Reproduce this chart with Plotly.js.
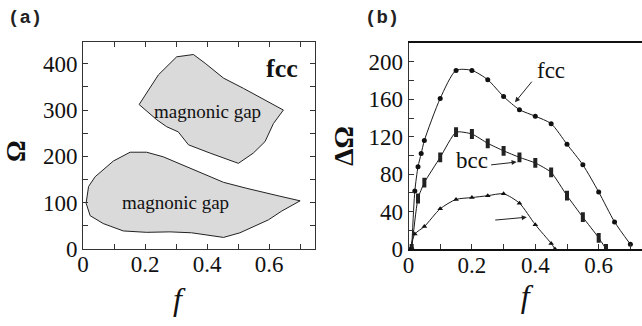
<!DOCTYPE html>
<html>
<head>
<meta charset="utf-8">
<script src="https://cdn.plot.ly/plotly-3.0.1.min.js"></script>
<style>html,body{margin:0;padding:0;background:#fff;}#chart{width:642px;height:326px;}</style>
</head>
<body>
<div id="chart"></div>
<script>
// Panel (a): magnonic gap regions (fcc), polygon outlines in (f, Omega)
const gapUpperF = [0.181, 0.211, 0.243, 0.302, 0.356, 0.394, 0.453, 0.517, 0.646, 0.614, 0.587, 0.549, 0.501, 0.41, 0.34, 0.307, 0.27, 0.238, 0.181];
const gapUpperW = [312, 343, 376, 415, 420, 401, 369, 347, 300, 271, 232, 207, 185, 207, 225, 253, 264, 279, 312];
const gapLowerF = [0.01, 0.018, 0.039, 0.098, 0.152, 0.205, 0.259, 0.335, 0.41, 0.453, 0.528, 0.598, 0.635, 0.7, 0.641, 0.598, 0.506, 0.453, 0.35, 0.28, 0.205, 0.13, 0.065, 0.023, 0.01];
const gapLowerW = [99, 135, 156, 190, 209, 209, 199, 178, 156, 144, 131, 119, 114, 104, 82, 63, 35, 25, 35, 37, 36, 39, 55, 72, 99];

// Panel (b): gap width vs f
const fccF = [0.01, 0.02, 0.03, 0.04, 0.05, 0.1, 0.15, 0.2, 0.25, 0.3, 0.35, 0.4, 0.45, 0.5, 0.55, 0.6, 0.65, 0.7];
const fccW = [0, 62, 88, 102, 116, 161, 191, 191, 181, 163, 149, 142, 134, 112, 90, 61, 29, 5];
const bccF = [0.01, 0.03, 0.05, 0.1, 0.15, 0.2, 0.25, 0.3, 0.35, 0.4, 0.45, 0.5, 0.55, 0.6, 0.623];
const bccW = [0, 54, 71, 98, 125, 123, 113, 105, 98, 92, 82, 57, 34, 12, 0];
const thirdF = [0.005, 0.02, 0.05, 0.1, 0.15, 0.2, 0.25, 0.3, 0.35, 0.4, 0.45, 0.462];
const thirdW = [0, 16, 24, 43, 53, 55, 57, 59, 49, 26, 6, 0];

// Tick labels
const aXTicks = [0, 0.2, 0.4, 0.6];
const aYTicks = [0, 100, 200, 300, 400];
const bXTicks = [0, 0.2, 0.4, 0.6];
const bYTicks = [0, 40, 80, 120, 160, 200];

const serif = "Liberation Serif";
const mono = "Liberation Mono";
const W = 642, H = 326;
const px = (x) => x / W;
const py = (y) => (H - y) / H;

const lineC = '#1a1a1a';
const traces = [
  {x: gapUpperF, y: gapUpperW, xaxis: 'x', yaxis: 'y', mode: 'lines', fill: 'toself',
   fillcolor: '#dadada', line: {color: '#222', width: 1}, hoverinfo: 'skip', showlegend: false},
  {x: gapLowerF, y: gapLowerW, xaxis: 'x', yaxis: 'y', mode: 'lines', fill: 'toself',
   fillcolor: '#dadada', line: {color: '#222', width: 1}, hoverinfo: 'skip', showlegend: false},
  {x: fccF, y: fccW, xaxis: 'x2', yaxis: 'y2', mode: 'lines+markers', name: 'fcc',
   line: {color: lineC, width: 1, shape: 'spline', smoothing: 0.7},
   marker: {symbol: 'circle', size: 5, color: '#111'}, showlegend: false},
  {x: bccF, y: bccW, xaxis: 'x2', yaxis: 'y2', mode: 'lines+markers', name: 'bcc',
   line: {color: lineC, width: 1, shape: 'spline', smoothing: 0.5},
   marker: {symbol: 'line-ns', size: 7, color: '#111', line: {color: '#222', width: 4}}, showlegend: false},
  {x: thirdF, y: thirdW, xaxis: 'x2', yaxis: 'y2', mode: 'lines+markers', name: 'third',
   line: {color: lineC, width: 1, shape: 'spline', smoothing: 0.7},
   marker: {symbol: 'triangle-up', size: 5, color: '#111'}, showlegend: false}
];

const tickFont = {family: serif, size: 23, color: '#111'};
const axCommon = {
  showgrid: false, zeroline: false, ticks: 'inside', ticklen: 5, tickcolor: '#333',
  tickfont: tickFont, showline: true, linecolor: '#333', linewidth: 1
};

const layout = {
  width: W, height: H,
  margin: {l: 0, r: 0, t: 0, b: 0},
  paper_bgcolor: '#fff', plot_bgcolor: '#fff',
  font: {family: serif, color: '#111'},
  xaxis: Object.assign({}, axCommon, {
    domain: [px(83), px(315)], range: [0, 0.748], anchor: 'y',
    tickvals: aXTicks, ticktext: aXTicks.map(String), mirror: 'allticks', ticklabelstandoff: -6,
    minor: {dtick: 0.1, tick0: 0, ticks: 'inside', ticklen: 5, tickcolor: '#333'}
  }),
  yaxis: Object.assign({}, axCommon, {
    domain: [py(249), py(42)], range: [0, 447], anchor: 'x',
    tickvals: aYTicks, ticktext: aYTicks.map(String), mirror: 'allticks',
    minor: {dtick: 50, tick0: 0, ticks: 'inside', ticklen: 5, tickcolor: '#333'}
  }),
  xaxis2: Object.assign({}, axCommon, {
    domain: [px(408.5), 1], range: [0, 0.7366], anchor: 'y2',
    tickvals: bXTicks, ticktext: bXTicks.map(String), mirror: true, linewidth: 2, linecolor: '#111',
    ticklabelstandoff: -6,
    minor: {dtick: 0.1, tick0: 0, ticks: 'inside', ticklen: 5, tickcolor: '#333'},
    title: {text: '<i>f</i>', font: {family: serif, size: 32, color: '#111'}, standoff: 8}
  }),
  yaxis2: Object.assign({}, axCommon, {
    domain: [py(249), py(43)], range: [0, 220.3], anchor: 'x2',
    tickvals: bYTicks, ticktext: bYTicks.map(String), mirror: false,
    minor: {dtick: 20, tick0: 0, ticks: 'inside', ticklen: 5, tickcolor: '#333'},
    title: {text: '<b>ΔΩ</b>', font: {family: serif, size: 28, color: '#111'}, standoff: 6}
  }),
  annotations: [
    {xref: 'paper', yref: 'paper', x: px(6), y: py(18), xanchor: 'left', yanchor: 'middle',
     text: '<b>(a)</b>', showarrow: false, font: {family: mono, size: 19, color: '#222'}},
    {xref: 'paper', yref: 'paper', x: px(363), y: py(18), xanchor: 'left', yanchor: 'middle',
     text: '<b>(b)</b>', showarrow: false, font: {family: mono, size: 19, color: '#222'}},
    {xref: 'paper', yref: 'paper', x: px(180), y: py(299), xanchor: 'center', yanchor: 'middle',
     text: '<i>f</i>', showarrow: false, font: {family: serif, size: 32, color: '#111'}},
    {xref: 'paper', yref: 'paper', x: px(16), y: py(151), xanchor: 'center', yanchor: 'middle',
     text: '<b>Ω</b>', textangle: -90, borderpad: 0, showarrow: false, font: {family: serif, size: 27, color: '#111'}},
    {xref: 'x', yref: 'y', x: 0.64, y: 389, text: '<b>fcc</b>', showarrow: false,
     font: {family: serif, size: 26, color: '#111'}},
    {xref: 'x', yref: 'y', x: 0.403, y: 298, text: 'magnonic gap', showarrow: false,
     font: {family: serif, size: 19, color: '#111'}},
    {xref: 'x', yref: 'y', x: 0.298, y: 100, text: 'magnonic gap', showarrow: false,
     font: {family: serif, size: 19, color: '#111'}},
    {xref: 'x2', yref: 'y2', x: 0.45, y: 191, text: 'fcc', showarrow: false,
     font: {family: serif, size: 23, color: '#111'}},
    {xref: 'x2', yref: 'y2', x: 0.2, y: 95, text: 'bcc', showarrow: false,
     font: {family: serif, size: 23, color: '#111'}},
    {xref: 'x2', yref: 'y2', x: 0.336, y: 157, ax: 18, ay: -22, text: '', showarrow: true,
     arrowhead: 2, arrowsize: 1, arrowwidth: 1, arrowcolor: '#222'},
    {xref: 'x2', yref: 'y2', x: 0.341, y: 93, ax: -27, ay: 3, text: '', showarrow: true,
     arrowhead: 2, arrowsize: 1, arrowwidth: 1, arrowcolor: '#222'},
    {xref: 'x2', yref: 'y2', x: 0.373, y: 34, ax: -33, ay: 3, text: '', showarrow: true,
     arrowhead: 2, arrowsize: 1, arrowwidth: 1, arrowcolor: '#222'}
  ]
};

Plotly.newPlot('chart', traces, layout, {staticPlot: true, displayModeBar: false});
</script>
</body>
</html>
